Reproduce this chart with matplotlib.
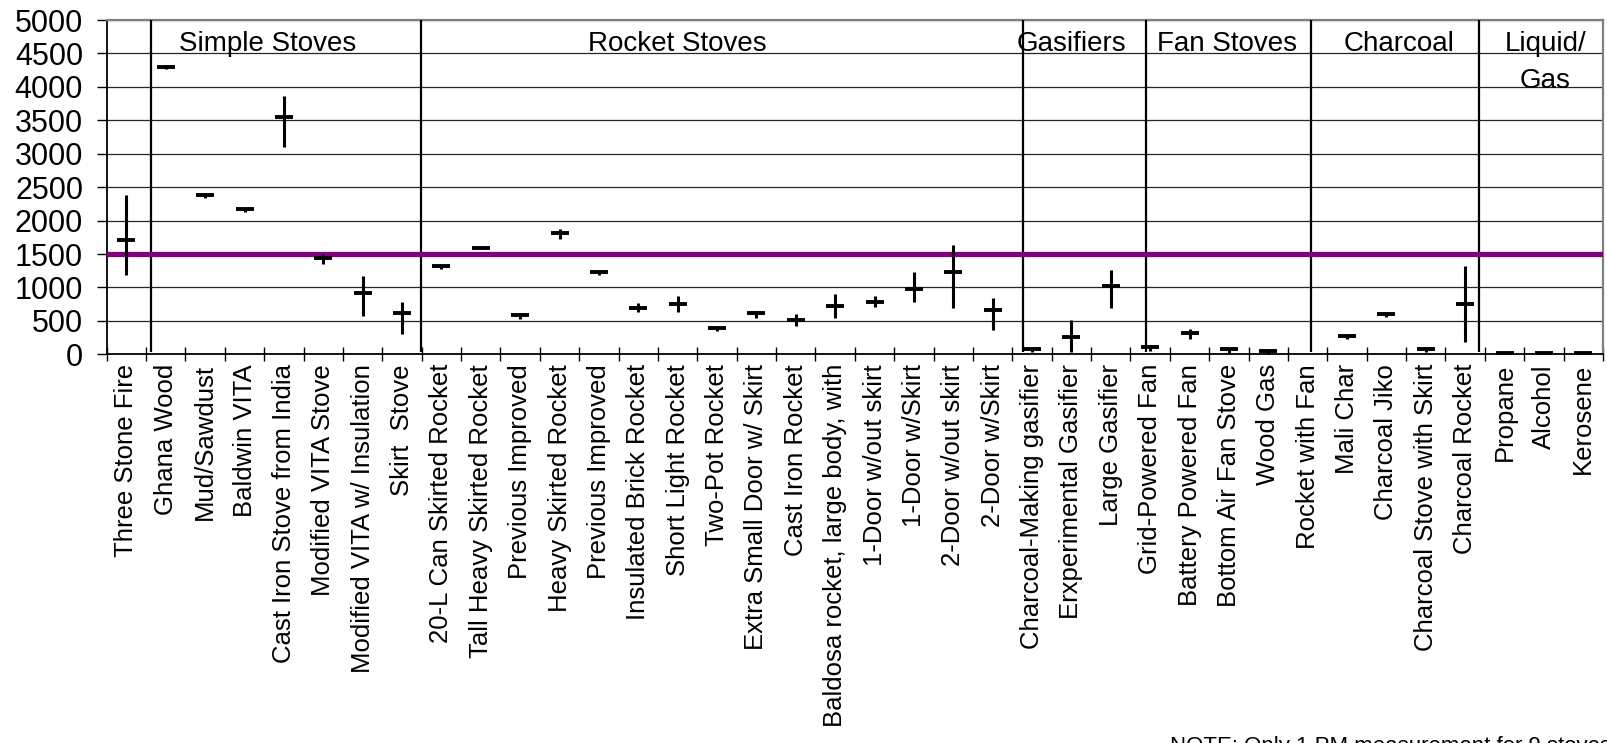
import matplotlib
matplotlib.use("Agg")
import matplotlib.pyplot as plt
import numpy as np

# ---------------- data ----------------
stoves = [
    "Three Stone Fire", "Ghana Wood", "Mud/Sawdust", "Baldwin VITA",
    "Cast Iron Stove from India", "Modified VITA Stove",
    "Modified VITA w/ Insulation", "Skirt  Stove",
    "20-L Can Skirted Rocket", "Tall Heavy Skirted Rocket", "Previous Improved",
    "Heavy Skirted Rocket", "Previous Improved", "Insulated Brick Rocket",
    "Short Light Rocket", "Two-Pot Rocket", "Extra Small Door w/ Skirt",
    "Cast Iron Rocket", "Baldosa rocket, large body, with",
    "1-Door w/out skirt", "1-Door w/Skirt", "2-Door w/out skirt", "2-Door w/Skirt",
    "Charcoal-Making gasifier", "Erxperimental Gasifier", "Large Gasifier",
    "Grid-Powered Fan", "Battery Powered Fan", "Bottom Air Fan Stove", "Wood Gas",
    "Rocket with Fan", "Mali Char", "Charcoal Jiko", "Charcoal Stove with Skirt",
    "Charcoal Rocket", "Propane", "Alcohol", "Kerosene",
]
pm_mean = [1709, 4302, 2383, 2173, 3545, 1445, 912, 613,
           1321, 1590, 583, 1819, 1231, 697, 752, 398, 613, 513, 727,
           787, 972, 1231, 663,
           75, 254, 1026,
           105, 314, 75, 49, np.nan,
           278, 607, 79, 757,
           24, 20, 20]
pm_low = [1186, 4262, 2343, 2133, 3096, 1346, 573, 304,
          1271, 1570, 523, 1729, 1181, 632, 632, 348, 548, 428, 548,
          703, 778, 688, 363,
          30, 39, 688,
          49, 224, 24, 4, np.nan,
          229, 558, 39, 189,
          0, 0, 0]
pm_high = [2383, 4302, 2383, 2173, 3863, 1500, 1171, 787,
           1321, 1600, 583, 1879, 1231, 762, 872, 398, 652, 603, 902,
           872, 1226, 1635, 847,
           75, 513, 1261,
           139, 374, 75, 49, np.nan,
           278, 607, 114, 1321,
           24, 20, 20]
group_names = ["Simple Stoves", "Rocket Stoves", "Gasifiers", "Fan Stoves", "Charcoal", "Liquid/", "Gas"]
benchmark = 1500
y_ticks = list(range(0, 5001, 500))
note_text = "NOTE: Only 1 PM measurement for 9 stoves"

# ---------------- layout constants ----------------
separator_x = [0.625, 7.476, 22.767, 25.898, 30.08, 34.349]
group_x = [3.584, 13.986, 23.993, 27.956, 32.325, 36.033, 36.033]
group_y = [4530, 4530, 4530, 4530, 4530, 4530, 3990]

plt.rcParams['font.family'] = ['Liberation Sans', 'DejaVu Sans']

W, H = 1608, 743
fig = plt.figure(figsize=(W / 100, H / 100), dpi=100)
left_px, right_px, top_px, bottom_px = 106.7, 1603, 20, 354.3
ax = fig.add_axes([left_px / W, 1 - bottom_px / H, (right_px - left_px) / W, (bottom_px - top_px) / H])

x = np.arange(len(stoves))
mean = np.array(pm_mean, float)
low = np.array(pm_low, float)
high = np.array(pm_high, float)
ok = ~np.isnan(mean)

ax.set_xlim(-0.5, len(stoves) - 0.5)
ax.set_ylim(0, 5000)

# gridlines
ax.set_yticks(y_ticks)
ax.set_yticklabels([str(v) for v in y_ticks], fontsize=22)
ax.yaxis.grid(True, color='#262626', linewidth=0.9)
ax.set_axisbelow(True)

# separators
ax.vlines(separator_x, 40, 5000, colors='black', linewidth=1.6, zorder=3)

# benchmark line
ax.axhline(benchmark, xmin=0, xmax=0.999, color='#800080', linewidth=3.8, zorder=3)

# error bars and dash markers
ax.errorbar(x[ok], mean[ok], yerr=[mean[ok] - low[ok], high[ok] - mean[ok]],
            fmt='none', ecolor='black', elinewidth=2.2, capsize=0, zorder=4, clip_on=False)
ax.plot(x[ok], mean[ok], linestyle='none', marker='_', markersize=13,
        markeredgewidth=2.8, color='black', zorder=5, clip_on=False)

# group labels
for name, gx, gy in zip(group_names, group_x, group_y):
    ax.text(gx, gy, name, ha='center', va='baseline', fontsize=20, zorder=6)

# x ticks
ax.set_xticks(np.arange(-0.5, len(stoves), 1.0))
ax.set_xticklabels([])
ax.tick_params(axis='x', which='major', direction='inout', length=10, width=1, color='black')
ax.set_xticks(x, minor=True)
ax.set_xticklabels(stoves, minor=True, rotation=90, fontsize=18.5)
ax.tick_params(axis='x', which='minor', length=0, pad=7)
ax.tick_params(axis='y', direction='out', length=7, width=1, pad=10, color='black')

# spines
for s in ['left', 'bottom']:
    ax.spines[s].set_color('black')
    ax.spines[s].set_linewidth(1.3)
for s in ['top', 'right']:
    ax.spines[s].set_color('#808080')
    ax.spines[s].set_linewidth(1.6)

fig.text(1170 / W, 1 - 736 / H, note_text, ha='left', va='top', fontsize=16)

fig.savefig('out.png', dpi=100)
